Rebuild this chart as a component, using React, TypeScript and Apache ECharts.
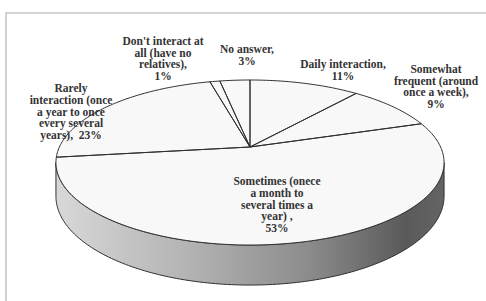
import React, { useEffect, useRef } from "react";
import * as echarts from "echarts";

// Slices clockwise from 12 o'clock
const categories = [
  "Daily interaction,",
  "Somewhat\nfrequent (around\nonce a week),",
  "Sometimes (onece\na month to\nseveral times a\nyear) ,",
  "Rarely\ninteraction (once\na year to once\nevery several\nyears),",
  "Don't interact at\nall (have no\nrelatives),",
  "No answer,",
];
const values = [11, 9, 53, 23, 1, 3];
const labelSeparators = ["\n", "\n", "\n", "  ", "\n", "\n"];

// layout (not data)
const labelCenters: [number, number][] = [
  [343, 70],
  [436, 86.5],
  [277, 204.5],
  [71, 111.5],
  [163, 58.5],
  [247, 55],
];
const CX = 250, CY = 147, BX = 190.6, BY = 79.6, K = 0.188, H0 = 32.5;

function proj(t: number, r = 1): [number, number] {
  const X = r * Math.sin(t);
  const Z = -r * Math.cos(t);
  const w = 1 - K * Z;
  return [CX + (BX * X) / w, CY + (BY * Z) / w];
}
function projBottom(t: number): [number, number] {
  const [x, y] = proj(t);
  const w = 1 + K * Math.cos(t);
  return [x, y + H0 / w];
}

export default function App() {
  const ref = useRef<HTMLDivElement>(null);
  useEffect(() => {
    const chart = echarts.init(ref.current!, null, { renderer: "svg" });
    const total = values.reduce((a, b) => a + b, 0);
    const cum: number[] = [];
    values.reduce((acc, v, i) => {
      cum[i] = acc;
      return acc + v;
    }, 0);
    const silL = Math.acos(-K);
    const silR = 2 * Math.PI - silL;
    const STROKE = "#303030";

    const renderItem = (params: any, api: any) => {
      const i = params.dataIndex;
      const v = api.value(0);
      const a0 = (cum[i] / total) * 2 * Math.PI;
      const a1 = a0 + (v / total) * 2 * Math.PI;
      const arc = (s: number, e: number, f: (t: number) => [number, number]) => {
        const n = Math.max(2, Math.ceil((e - s) / (Math.PI / 180)));
        const pts: [number, number][] = [];
        for (let j = 0; j <= n; j++) pts.push(f(s + ((e - s) * j) / n));
        return pts;
      };
      const children: any[] = [];
      const s0 = Math.max(a0, silL);
      const s1 = Math.min(a1, silR);
      if (s1 > s0) {
        const pts = arc(s0, s1, (t) => proj(t)).concat(
          arc(s0, s1, projBottom).reverse()
        );
        children.push({
          type: "polygon",
          z2: 1,
          shape: { points: pts },
          style: {
            fill: {
              type: "linear",
              x: 56,
              y: 0,
              x2: 444,
              y2: 0,
              global: true,
              colorStops: [
                { offset: 0, color: "#d8d8d8" },
                { offset: 0.35, color: "#b2b2b2" },
                { offset: 0.65, color: "#8c8c8c" },
                { offset: 0.9, color: "#5a5a5a" },
                { offset: 1, color: "#646464" },
              ],
            },
            stroke: STROKE,
            lineWidth: 1,
          },
        });
      }
      const top = [[CX, CY] as [number, number]].concat(arc(a0, a1, (t) => proj(t)));
      children.push({
        type: "polygon",
        z2: 2,
        shape: { points: top },
        style: { fill: "#f8f8f8", stroke: null },
      });
      children.push({
        type: "polygon",
        z2: 4,
        shape: { points: top },
        style: { fill: null, stroke: STROKE, lineWidth: 1 },
      });
      const [lx, ly] = labelCenters[i];
      children.push({
        type: "text",
        z2: 3,
        style: {
          text: categories[i] + labelSeparators[i] + v + "%",
          x: lx,
          y: ly,
          align: "center",
          verticalAlign: "middle",
          fill: "#333333",
          font: 'bold 11.5px "Liberation Serif"',
          lineHeight: 11.8,
        },
      });
      return { type: "group", children };
    };

    chart.setOption({
      animation: false,
      backgroundColor: "#ffffff",
      graphic: [
        {
          type: "rect",
          silent: true,
          shape: { x: 6, y: 13, width: 1000, height: 1000 },
          style: { fill: "none", stroke: "#c6c6c6", lineWidth: 1.6 },
        },
      ],
      series: [
        {
          type: "custom",
          coordinateSystem: "none",
          silent: true,
          data: values.map((v, i) => ({ name: categories[i], value: [v] })),
          renderItem,
        },
      ],
    });
    return () => chart.dispose();
  }, []);
  return (
    <div
      ref={ref}
      style={{ position: "fixed", left: 0, top: 0, width: 486, height: 301 }}
    />
  );
}
